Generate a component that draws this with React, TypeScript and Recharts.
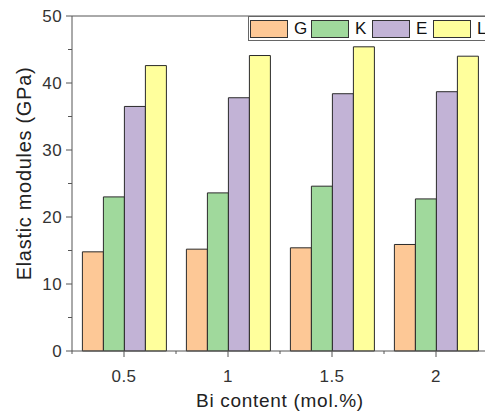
import React from 'react'
import { BarChart, Bar, XAxis, YAxis, Legend, Label, ReferenceLine } from 'recharts'

const categories = ['0.5', '1', '1.5', '2']
const gValues = [14.8, 15.2, 15.4, 15.9]
const kValues = [23.0, 23.6, 24.6, 22.7]
const eValues = [36.5, 37.8, 38.4, 38.7]
const lValues = [42.6, 44.1, 45.4, 44.0]
const yTicks = [0, 5, 10, 15, 20, 25, 30, 35, 40, 45, 50]

const SERIES = [
  { key: 'G', color: '#fdc896' },
  { key: 'K', color: '#a0d99c' },
  { key: 'E', color: '#c2b3d6' },
  { key: 'L', color: '#ffff9c' },
]

const data = categories.map((x, i) => ({
  x,
  G: gValues[i],
  K: kValues[i],
  E: eValues[i],
  L: lValues[i],
}))

const FONT = 'Arial, "Liberation Sans", sans-serif'
const AXIS = '#555'
const W = 500
const H = 415
const Y_AXIS_W = 72
const MARGIN = { top: 16, right: 12, left: 0, bottom: 0 }
const BAND = (W - MARGIN.left - MARGIN.right - Y_AXIS_W) / categories.length

// major ticks every 10 with labels, unlabelled minor ticks in between
function YTick({ x, y, payload }: any) {
  const major = payload.value % 10 === 0
  return (
    <g>
      <line x1={x - (major ? 6 : 4)} x2={x} y1={y} y2={y} stroke={AXIS} />
      {major && (
        <text x={x - 10} y={y + 6} textAnchor="end" fontSize={17} fontFamily={FONT} fill="#333" letterSpacing={0.4}>
          {payload.value}
        </text>
      )}
    </g>
  )
}

// major tick at the category centre, minor tick at the band edge
function XTick({ x, y, payload }: any) {
  const edge = x - BAND / 2
  return (
    <g>
      <line x1={x} x2={x} y1={y} y2={y + 6} stroke={AXIS} />
      <line x1={edge} x2={edge} y1={y} y2={y + 3} stroke={AXIS} />
      <text x={x} y={y + 30.5} textAnchor="middle" fontSize={17} fontFamily={FONT} fill="#333" letterSpacing={0.4}>
        {payload.value}
      </text>
    </g>
  )
}

function XTitle({ viewBox }: any) {
  return (
    <text x={viewBox.x + viewBox.width / 2} y={viewBox.y + 55.5} textAnchor="middle" fontSize={19} fontFamily={FONT} fill="#222" letterSpacing={0.7}>
      Bi content (mol.%)
    </text>
  )
}

function YTitle({ viewBox }: any) {
  const cx = 31
  const cy = viewBox.y + viewBox.height / 2 - 10
  return (
    <text x={cx} y={cy} transform={`rotate(-90, ${cx}, ${cy})`} textAnchor="middle" fontSize={20} fontFamily={FONT} fill="#222" letterSpacing={0.7}>
      Elastic modules (GPa)
    </text>
  )
}

// legend keeps the series order (G, K, E, L)
function LegendBox() {
  return (
    <div
      style={{
        boxSizing: 'border-box',
        height: 25,
        border: '1px solid #666',
        borderRight: 'none',
        display: 'flex',
        paddingLeft: 1,
        background: '#fff',
      }}
    >
      {SERIES.map(s => (
        <div key={s.key} style={{ width: 61, display: 'flex', alignItems: 'center', height: 23 }}>
          <div style={{ width: 38, height: 18, boxSizing: 'border-box', border: '1px solid #333', background: s.color }} />
          <span style={{ marginLeft: 6, fontSize: 17, fontFamily: FONT, color: '#111', lineHeight: '23px' }}>{s.key}</span>
        </div>
      ))}
    </div>
  )
}

export default function App() {
  return (
    <div style={{ position: 'absolute', left: 0, top: 0, width: 485, height: 415, overflow: 'hidden', background: '#fff' }}>
      <BarChart width={W} height={H} data={data} margin={MARGIN} barCategoryGap="10%" barGap={0}>
        <XAxis
          dataKey="x"
          stroke={AXIS}
          height={H - 351 - MARGIN.bottom}
          tickLine={false}
          tickSize={0}
          tickMargin={0}
          interval={0}
          tick={<XTick />}
        >
          <Label content={<XTitle />} />
        </XAxis>
        <YAxis
          width={Y_AXIS_W}
          domain={[0, 50]}
          ticks={yTicks}
          interval={0}
          stroke={AXIS}
          tickLine={false}
          tickSize={0}
          tickMargin={0}
          tick={<YTick />}
        >
          <Label content={<YTitle />} />
        </YAxis>
        <ReferenceLine y={50} stroke={AXIS} />
        {SERIES.map(s => (
          <Bar key={s.key} dataKey={s.key} name={s.key} fill={s.color} stroke="#2a2a2a" strokeWidth={1} isAnimationActive={false} />
        ))}
        <Legend
          layout="horizontal"
          verticalAlign="middle"
          align="center"
          wrapperStyle={{ position: 'absolute', left: 248, top: 16, width: 260, height: 25 }}
          content={<LegendBox />}
        />
      </BarChart>
    </div>
  )
}
